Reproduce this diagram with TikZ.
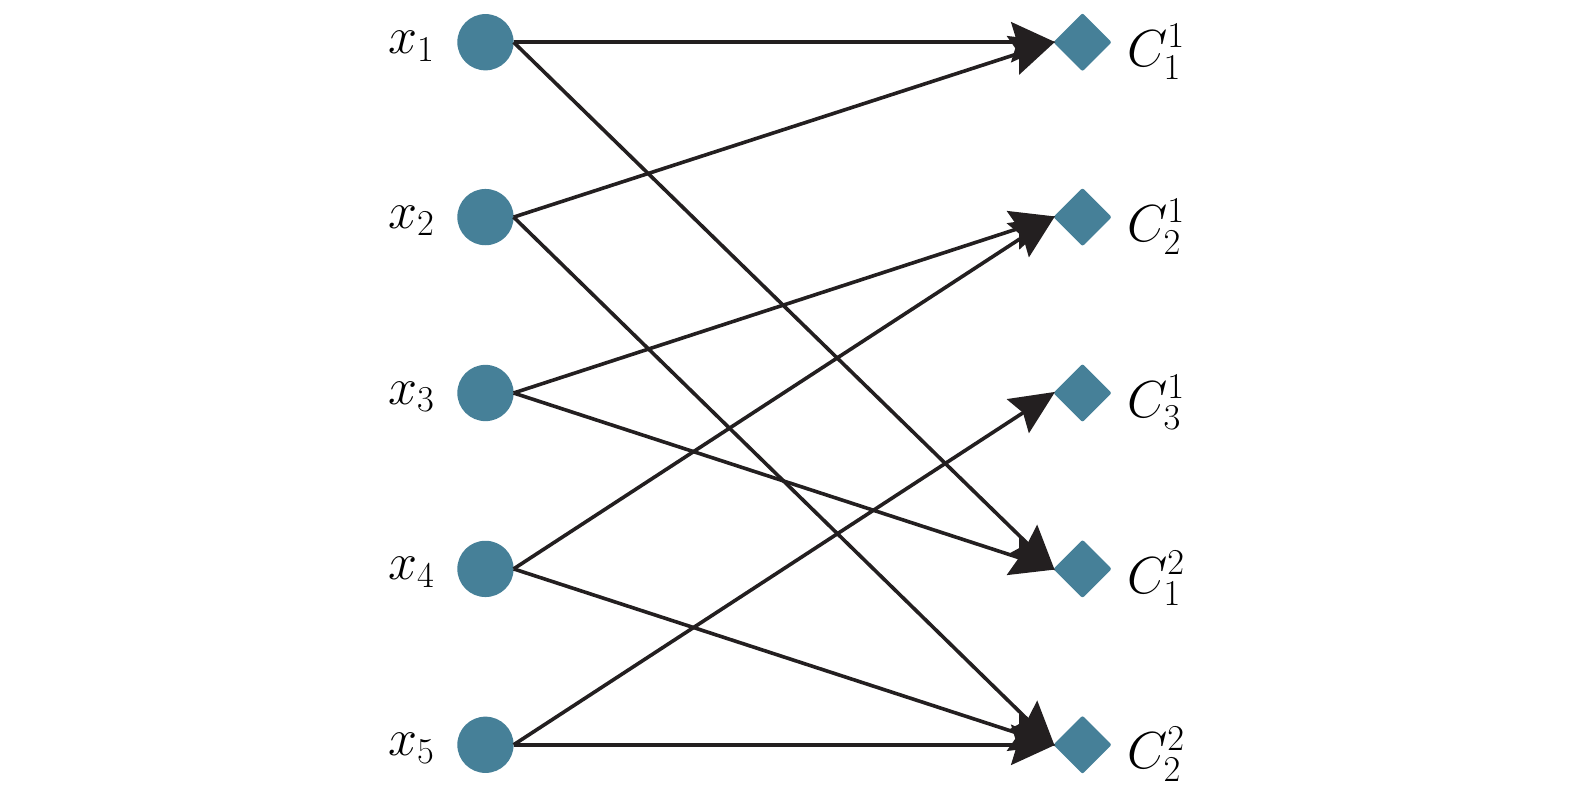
\RequirePackage{fix-cm}
\documentclass[tikz,border=0pt]{standalone}
\usetikzlibrary{shapes.geometric, arrows.meta, positioning}
\definecolor{nodeblue}{RGB}{70,128,152}
\definecolor{edgeblack}{RGB}{35,31,32}
\tikzstyle{src}=[circle,fill=nodeblue,minimum size=28bp,inner sep=0pt,outer sep=0pt]
\tikzstyle{cls}=[diamond,fill=nodeblue,minimum size=29bp,inner sep=0pt,outer sep=0pt,rounded corners=1pt]
\tikzstyle{lbl}=[inner sep=0pt,font=\fontsize{26}{30}\selectfont]
\tikzstyle{edge}=[->,line width=1.8bp,draw=edgeblack,shorten >=-1bp]
\newcommand{\vx}[1]{$x_{#1}$}
\newcommand{\vc}[2]{$C^{#1}_{#2}$}

\begin{document}
\begin{tikzpicture}[x=0.5bp,y=-0.5bp,>={Stealth[length=22bp,width=20bp,inset=3bp]}]
  \useasboundingbox (0,0) rectangle (1567,792);
  % inputs
  \node[src] (x1) at (483,42) {};
  \node[src] (x2) at (483,216) {};
  \node[src] (x3) at (483,391) {};
  \node[src] (x4) at (483,566) {};
  \node[src] (x5) at (483,741) {};
  \node[lbl, anchor=base east] at ([shift={(-22,11)}]x1.west) {\vx{1}};
  \node[lbl, anchor=base east] at ([shift={(-22,11)}]x2.west) {\vx{2}};
  \node[lbl, anchor=base east] at ([shift={(-22,11)}]x3.west) {\vx{3}};
  \node[lbl, anchor=base east] at ([shift={(-22,11)}]x4.west) {\vx{4}};
  \node[lbl, anchor=base east] at ([shift={(-22,11)}]x5.west) {\vx{5}};
  % classes
  \node[cls] (c11) at (1077,42) {};
  \node[cls] (c21) at (1077,216) {};
  \node[cls] (c31) at (1077,391) {};
  \node[cls] (c12) at (1077,566) {};
  \node[cls] (c22) at (1077,741) {};
  \node[lbl, anchor=base west] at ([shift={(15,24)}]c11.east) {\vc{1}{1}};
  \node[lbl, anchor=base west] at ([shift={(15,24)}]c21.east) {\vc{1}{2}};
  \node[lbl, anchor=base west] at ([shift={(15,24)}]c31.east) {\vc{1}{3}};
  \node[lbl, anchor=base west] at ([shift={(15,24)}]c12.east) {\vc{2}{1}};
  \node[lbl, anchor=base west] at ([shift={(15,24)}]c22.east) {\vc{2}{2}};
  % links
  \draw[edge] (x1.east) -- (c11.west);
  \draw[edge] (x1.east) -- (c12.west);
  \draw[edge] (x2.east) -- (c11.west);
  \draw[edge] (x2.east) -- (c22.west);
  \draw[edge] (x3.east) -- (c21.west);
  \draw[edge] (x3.east) -- (c12.west);
  \draw[edge] (x4.east) -- (c21.west);
  \draw[edge] (x4.east) -- (c22.west);
  \draw[edge] (x5.east) -- (c31.west);
  \draw[edge] (x5.east) -- (c22.west);
\end{tikzpicture}
\end{document}
